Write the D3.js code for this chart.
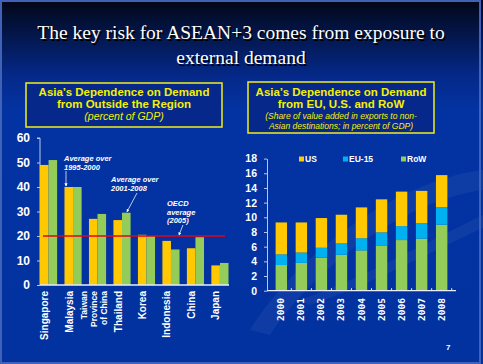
<!DOCTYPE html>
<html>
<head>
<meta charset="utf-8">
<script src="https://cdn.jsdelivr.net/npm/d3@7"></script>
<style>
  body { margin: 0; background: #000; }
  svg { display: block; }
  .axis path, .axis line { stroke: #b8c8ec; }
  .axis text { fill: #fff; font-family: "Liberation Sans", Arial, sans-serif; font-weight: bold; }
</style>
</head>
<body>
<div id="slide"></div>
<script>
// ---- data: left chart (percent of GDP)
const countries = ["Singapore", "Malaysia", "Taiwan", "Thailand", "Korea", "Indonesia", "China", "Japan"];
const countryLabels = [["Singapore"], ["Malaysia"], ["Taiwan", "Province", "of China"], ["Thailand"], ["Korea"], ["Indonesia"], ["China"], ["Japan"]];
const avg9500 = [49, 40, 27, 26.5, 20.5, 18, 15, 8];
const avg0108 = [51, 40, 29, 29.5, 20, 14.5, 19.5, 9];
const oecdAvg = 20;
const leftTicks = [0, 10, 20, 30, 40, 50, 60];

// ---- data: right chart (value added in exports to non-Asian destinations, % of GDP)
const years = ["2000", "2001", "2002", "2003", "2004", "2005", "2006", "2007", "2008"];
const row = [3.5, 3.8, 4.5, 4.9, 5.5, 6.1, 6.9, 7.1, 9.0];
const eu15 = [1.45, 1.4, 1.35, 1.55, 1.65, 1.85, 1.9, 2.1, 2.4];
const us = [4.35, 4.1, 4.05, 3.9, 4.2, 4.5, 4.7, 4.4, 4.35];
const rightTicks = [0, 2, 4, 6, 8, 10, 12, 14, 16, 18];

const W = 483, H = 364;
const svg = d3.select("#slide").append("svg").attr("width", W).attr("height", H);
const defs = svg.append("defs");

let bg = defs.append("linearGradient").attr("id", "bg").attr("x1", 0).attr("y1", 0).attr("x2", 0).attr("y2", 1);
bg.append("stop").attr("offset", "0%").attr("stop-color", "#020716");
bg.append("stop").attr("offset", "21%").attr("stop-color", "#05298a");
bg.append("stop").attr("offset", "30%").attr("stop-color", "#0333a2");
bg.append("stop").attr("offset", "100%").attr("stop-color", "#0232a0");

defs.append("marker").attr("id", "arrow")
    .attr("viewBox", "0 0 6 6").attr("refX", 5).attr("refY", 3)
    .attr("markerWidth", 4).attr("markerHeight", 4).attr("orient", "auto")
    .append("path").attr("d", "M0,0L6,3L0,6Z").attr("fill", "#fff");

svg.append("rect").attr("width", W).attr("height", H).attr("fill", "url(#bg)");
// faint swoosh in the background
svg.append("path")
    .attr("d", "M250,330 C300,250 400,180 483,170 L483,190 C410,200 320,260 270,335 Z")
    .attr("fill", "#ffffff").attr("opacity", 0.05);
svg.append("path")
    .attr("d", "M300,300 C360,280 430,240 483,215 L483,228 C430,252 370,285 310,305 Z")
    .attr("fill", "#ffffff").attr("opacity", 0.05);
// slide frame
svg.append("rect").attr("x", 1).attr("y", 1).attr("width", W - 4).attr("height", H - 2)
    .attr("fill", "none").attr("stroke", "#3f62b6").attr("stroke-width", 2);

// title
const titleLines = ["The key risk for ASEAN+3 comes from exposure to", "external demand"];
titleLines.forEach((t, i) => {
    [["#000", 1.5], ["#fff", 0]].forEach(([c, o]) => {
        svg.append("text")
            .attr("x", 241 + o).attr("y", 39 + i * 25 + o)
            .attr("text-anchor", "middle")
            .attr("font-family", "Liberation Serif, Times New Roman, serif")
            .attr("font-size", 19.5)
            .attr("fill", c)
            .text(t);
    });
});

// chart title boxes
function titleBox(x, y, w, h, lines) {
    svg.append("rect").attr("x", x).attr("y", y).attr("width", w).attr("height", h)
        .attr("fill", "#06288a").attr("stroke", "#f2ee1a").attr("stroke-width", 1.5);
    lines.forEach(l => {
        svg.append("text")
            .attr("x", x + w / 2).attr("y", l.y)
            .attr("text-anchor", "middle")
            .attr("font-family", "Liberation Sans, Arial, sans-serif")
            .attr("font-weight", l.italic ? "normal" : "bold")
            .attr("font-style", l.italic ? "italic" : "normal")
            .attr("font-size", l.size)
            .attr("fill", "#f5f000")
            .text(l.text);
    });
}
titleBox(26, 83, 196, 44, [
    {text: "Asia\u2019s Dependence on Demand", y: 96, size: 11.5},
    {text: "from Outside the Region", y: 108, size: 11.5},
    {text: "(percent of GDP)", y: 119.5, size: 10.5, italic: true}
]);
titleBox(248, 82, 186, 51, [
    {text: "Asia\u2019s Dependence on Demand", y: 96, size: 11.5},
    {text: "from EU, U.S. and RoW", y: 108, size: 11.5},
    {text: "(Share of value added in exports to non-", y: 118.5, size: 8.5, italic: true},
    {text: "Asian destinations;  in percent of GDP)", y: 129, size: 8.5, italic: true}
]);

// ---------------- left chart
const x0 = d3.scaleBand().domain(countries).range([40, 228.5]).paddingInner(0.3).paddingOuter(0);
const x1 = d3.scaleBand().domain(["a", "b"]).range([0, x0.bandwidth()]);
const yL = d3.scaleLinear().domain([0, 60]).range([285, 138]);

const left = svg.append("g");
left.append("g").attr("class", "axis")
    .attr("transform", "translate(40,0)")
    .call(d3.axisLeft(yL).tickValues(leftTicks).tickSize(3).tickSizeOuter(3).tickPadding(7))
    .call(g => g.selectAll("text").attr("font-size", 12))
    .call(g => g.select(".domain").attr("d", "M-3," + yL(60) + "H0V" + yL(0)));

const groups = left.selectAll(".grp").data(countries).join("g")
    .attr("transform", d => `translate(${x0(d)},0)`);
groups.append("rect")
    .attr("x", x1("a")).attr("width", x1.bandwidth())
    .attr("y", (d, i) => yL(avg9500[i])).attr("height", (d, i) => yL(0) - yL(avg9500[i]))
    .attr("fill", "#ffc800");
groups.append("rect")
    .attr("x", x1("b")).attr("width", x1.bandwidth())
    .attr("y", (d, i) => yL(avg0108[i])).attr("height", (d, i) => yL(0) - yL(avg0108[i]))
    .attr("fill", "#94cc5a");

left.append("line").attr("x1", 40).attr("x2", 229).attr("y1", yL(0)).attr("y2", yL(0))
    .attr("stroke", "#e8eefa").attr("stroke-width", 1.5);
left.append("line").attr("x1", 43).attr("x2", 225).attr("y1", yL(oecdAvg)).attr("y2", yL(oecdAvg))
    .attr("stroke", "#e30613").attr("stroke-width", 1.5);

// category labels, rotated
countries.forEach((c, i) => {
    const lines = countryLabels[i];
    const cx = x0(c) + x0.bandwidth() / 2 - 4;
    lines.forEach((l, j) => {
        const lx = cx + (j - (lines.length - 1) / 2) * 10 + 3.5;
        svg.append("text")
            .attr("transform", `translate(${lx},291) rotate(-90)`)
            .attr("text-anchor", "end")
            .attr("font-family", "Liberation Sans, Arial, sans-serif")
            .attr("font-weight", "bold")
            .attr("font-size", lines.length > 1 ? 8.5 : 10)
            .attr("fill", "#fff")
            .text(l);
    });
});

// annotations
function note(lines, x, y, lh, from, to) {
    lines.forEach((l, i) => {
        svg.append("text").attr("x", x).attr("y", y + i * lh)
            .attr("font-family", "Liberation Sans, Arial, sans-serif")
            .attr("font-weight", "bold").attr("font-style", "italic")
            .attr("font-size", 7.5).attr("fill", "#fff").text(l);
    });
    svg.append("line").attr("x1", from[0]).attr("y1", from[1]).attr("x2", to[0]).attr("y2", to[1])
        .attr("stroke", "#e8eefa").attr("stroke-width", 0.8).attr("marker-end", "url(#arrow)");
}
note(["Average over", "1995-2000"], 64, 161, 9, [66, 171], [66, yL(avg9500[1]) - 1]);
note(["Average over", "2001-2008"], 111, 182, 9, [137, 193], [127, yL(avg0108[3]) - 1]);
note(["OECD", "average", "(2005)"], 167, 206, 8.5, [183, 225], [179, yL(oecdAvg) - 1]);

// ---------------- right chart
const xR = d3.scaleBand().domain(years).range([267, 456]).padding(0.43);
const yR = d3.scaleLinear().domain([0, 18]).range([290.7, 158.6]);

const table = years.map((y, i) => ({year: y, RoW: row[i], EU: eu15[i], US: us[i]}));
const stack = d3.stack().keys(["RoW", "EU", "US"])(table);
const colors = {RoW: "#94cc5a", EU: "#00b0f0", US: "#ffc800"};

const right = svg.append("g");
right.selectAll(".layer").data(stack).join("g")
    .attr("fill", d => colors[d.key])
    .selectAll("rect").data(d => d).join("rect")
    .attr("x", d => xR(d.data.year)).attr("width", xR.bandwidth())
    .attr("y", d => yR(d[1])).attr("height", d => yR(d[0]) - yR(d[1]));

right.append("g").attr("class", "axis")
    .attr("transform", "translate(267,0)")
    .call(d3.axisLeft(yR).tickValues(rightTicks).tickSize(3).tickSizeOuter(0).tickPadding(7))
    .call(g => g.selectAll("text").attr("font-size", 10.5));

right.append("line").attr("x1", 267).attr("x2", 456).attr("y1", yR(0)).attr("y2", yR(0))
    .attr("stroke", "#e8eefa").attr("stroke-width", 1.2);
// small ticks between the bars
right.selectAll(".btick").data(years.slice(1).concat(["end"])).join("line")
    .attr("x1", (d, i) => xR(years[i]) + xR.bandwidth() + xR.step() * xR.paddingInner() / 2)
    .attr("x2", (d, i) => xR(years[i]) + xR.bandwidth() + xR.step() * xR.paddingInner() / 2)
    .attr("y1", yR(0)).attr("y2", yR(0) - 2.5)
    .attr("stroke", "#e8eefa").attr("stroke-width", 1);

right.selectAll(".ylab").data(years).join("text")
    .attr("transform", d => `translate(${xR(d) + xR.bandwidth() / 2 + 3},298) rotate(-90)`)
    .attr("text-anchor", "end")
    .attr("font-family", "DejaVu Sans Mono, monospace")
    .attr("font-weight", "bold")
    .attr("font-size", 9.5)
    .attr("fill", "#fff")
    .text(d => d);

// legend
const legend = [{key: "US", x: 299}, {key: "EU", label: "EU-15", x: 343}, {key: "RoW", x: 401}];
legend.forEach(l => {
    svg.append("rect").attr("x", l.x).attr("y", 156.5).attr("width", 5).attr("height", 5).attr("fill", colors[l.key]);
    svg.append("text").attr("x", l.x + 6).attr("y", 161.5)
        .attr("font-family", "Liberation Sans, Arial, sans-serif")
        .attr("font-weight", "bold").attr("font-size", 8.5).attr("fill", "#fff")
        .text(l.label || l.key);
});

// page number
svg.append("text").attr("x", 446).attr("y", 350)
    .attr("font-family", "Liberation Sans, Arial, sans-serif")
    .attr("font-size", 8).attr("font-weight", "bold").attr("fill", "#fff").text("7");
</script>
</body>
</html>
